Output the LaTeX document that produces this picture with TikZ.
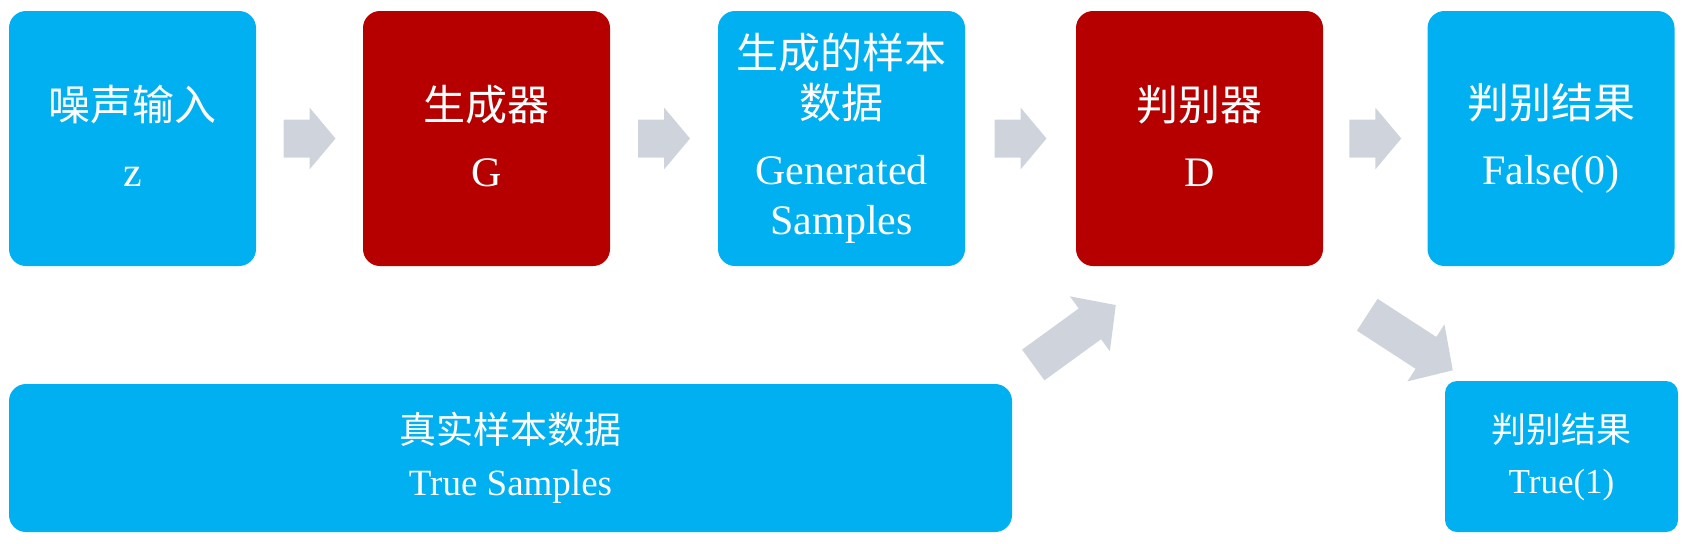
\documentclass[tikz,border=0pt]{standalone}
\usepackage{fontspec}
\setmainfont{Liberation Serif}
\newfontfamily\cjk{Noto Sans CJK SC}
\usetikzlibrary{calc}
\definecolor{skyblue}{RGB}{0, 176, 240}
\definecolor{darkred}{RGB}{182, 0, 0}
\definecolor{arrowgray}{RGB}{207, 212, 220}
% block arrow: centre, angle, length, head length, head half width
\newcommand{\grayarrow}[5]{%
  \fill[arrowgray, shift={#1}, rotate=#2]
    ({-#3/2}, -19) -- ({#3/2-#4}, -19) -- ({#3/2-#4}, -#5) -- ({#3/2}, 0)
    -- ({#3/2-#4}, #5) -- ({#3/2-#4}, 19) -- ({-#3/2}, 19) -- cycle;
}

\begin{document}
\begin{tikzpicture}[x=0.5pt, y=-0.5pt,
  box/.style={rounded corners=8.5pt, text=white, align=center,
    minimum width=123.5pt, minimum height=127.5pt,
    font=\fontsize{21}{25}\selectfont}]

  \useasboundingbox (0, 0) rectangle (1684, 543);

  % top row
  \node[box, fill=skyblue, text depth=3pt] (noise) at (132.5, 138.5) {{\cjk 噪声输入}\\[8pt] z};
  \node[box, fill=darkred, text depth=3pt] (gnet) at (486.5, 138.5) {{\cjk 生成器}\\[8pt] G};
  \node[box, fill=skyblue] (gsamp) at (841.5, 138.5)
    {{\cjk 生成的样本}\\{\cjk 数据}\\[8pt] Generated\\Samples};
  \node[box, fill=darkred, text depth=3pt] (dnet) at (1199.5, 138.5) {{\cjk 判别器}\\[8pt] D};
  \node[box, fill=skyblue] (outf) at (1551, 138.5) {{\cjk 判别结果}\\[8pt] False(0)};

  % bottom row
  \node[box, fill=skyblue, minimum width=501.5pt, minimum height=74pt,
    font=\fontsize{18.5}{22}\selectfont] (real) at (510.5, 458)
    {{\cjk 真实样本数据}\\[4pt] True Samples};
  \node[box, fill=skyblue, rounded corners=6pt, minimum width=116.5pt,
    minimum height=75.5pt, font=\fontsize{17.5}{21}\selectfont] (outt) at (1561.5, 456.5)
    {{\cjk 判别结果}\\[4.5pt] True(1)};

  % arrows
  \grayarrow{($(noise.east)!0.5!(gnet.west)$)}{0}{52}{26}{31}
  \grayarrow{($(gnet.east)!0.5!(gsamp.west)$)}{0}{52}{26}{31}
  \grayarrow{($(gsamp.east)!0.5!(dnet.west)$)}{0}{52}{26}{31}
  \grayarrow{($(dnet.east)!0.5!(outf.west)$)}{0}{52}{26}{31}
  \grayarrow{(1074.5, 335)}{36}{102}{32}{34}
  \grayarrow{(1410, 342.5)}{-33}{102}{32}{34}

\end{tikzpicture}
\end{document}
